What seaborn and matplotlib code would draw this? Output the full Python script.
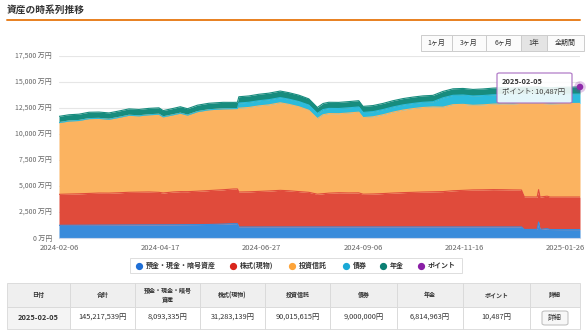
import matplotlib
matplotlib.use("Agg")
import matplotlib.pyplot as plt
from matplotlib.patches import Rectangle, FancyBboxPatch
from matplotlib.lines import Line2D
import numpy as np
import pandas as pd
import seaborn as sns

# ---------------- data (万円) ----------------
dates = [
    "2024-02-06", "2024-02-13", "2024-02-20", "2024-02-27", "2024-03-05", "2024-03-12",
    "2024-03-19", "2024-03-26", "2024-04-02", "2024-04-09", "2024-04-16", "2024-04-19",
    "2024-04-26", "2024-05-01", "2024-05-06", "2024-05-13", "2024-05-21", "2024-05-31",
    "2024-06-07", "2024-06-10", "2024-06-11", "2024-06-18", "2024-06-25", "2024-07-02",
    "2024-07-10", "2024-07-16", "2024-07-23", "2024-07-30", "2024-08-05", "2024-08-09",
    "2024-08-13", "2024-08-20", "2024-08-27", "2024-09-03", "2024-09-06", "2024-09-13",
    "2024-09-20", "2024-09-27", "2024-10-04", "2024-10-11", "2024-10-18", "2024-10-25",
    "2024-11-01", "2024-11-08", "2024-11-15", "2024-11-22", "2024-11-29", "2024-12-06",
    "2024-12-13", "2024-12-20", "2024-12-26", "2024-12-28", "2025-01-06", "2025-01-07",
    "2025-01-08", "2025-01-13", "2025-01-15", "2025-01-22", "2025-01-29", "2025-02-05",
]
cash = [
    1220, 1225, 1230, 1235, 1240, 1245, 1250, 1255, 1260, 1265, 1270, 1270,
    1275, 1280, 1285, 1290, 1300, 1340, 1380, 1380, 1060, 1060, 1060, 1062,
    1062, 1062, 1062, 1062, 1062, 1062, 1062, 1062, 1062, 1062, 1062, 1062,
    1062, 1062, 1062, 1062, 1062, 1062, 1062, 1062, 1062, 1062, 1062, 1062,
    1062, 1062, 1062, 820, 830, 1540, 830, 900, 815, 810, 809, 809.3,
]
stocks = [
    2980, 3000, 3020, 3050, 3080, 3070, 3100, 3140, 3150, 3160, 3120, 3060,
    3150, 3180, 3170, 3210, 3260, 3300, 3330, 3335, 3360, 3380, 3420, 3460,
    3520, 3480, 3400, 3330, 3150, 3200, 3250, 3290, 3270, 3280, 3150, 3170,
    3210, 3260, 3300, 3330, 3360, 3380, 3400, 3480, 3520, 3560, 3570, 3590,
    3580, 3560, 3550, 3130, 3110, 3110, 3110, 3120, 3120, 3125, 3128, 3128.3,
]
trusts = [
    6895, 7025, 7050, 7195, 7180, 7105, 7250, 7405, 7340, 7425, 7510, 7320,
    7425, 7540, 7365, 7650, 7770, 7780, 7730, 7735, 8060, 8110, 8220, 8278,
    8418, 8308, 8158, 7888, 7268, 7588, 7648, 7598, 7688, 7758, 7363, 7418,
    7578, 7778, 7938, 8048, 8128, 8158, 8118, 8278, 8268, 8138, 8168, 8218,
    8258, 8258, 8338, 9000, 9020, 8310, 9010, 8880, 8945, 8985, 8993, 9001.6,
]
bonds = [
    0, 0, 0, 0, 0, 0, 0, 0, 0, 0, 0, 0,
    0, 0, 0, 0, 0, 0, 0, 0, 500, 500, 500, 500,
    500, 500, 500, 500, 500, 500, 500, 500, 500, 500, 500, 500,
    500, 500, 500, 500, 500, 500, 900, 900, 900, 900, 900, 900,
    900, 900, 900, 900, 900, 900, 900, 900, 900, 900, 900, 900,
]
pension = [
    600, 600, 605, 610, 610, 605, 610, 615, 610, 615, 615, 600,
    610, 620, 610, 620, 625, 625, 600, 600, 600, 610, 620, 625,
    630, 625, 615, 600, 570, 585, 590, 590, 595, 600, 580, 585,
    590, 600, 605, 610, 615, 615, 615, 625, 630, 625, 630, 640,
    645, 645, 650, 650, 655, 655, 655, 660, 660, 670, 675, 681.5,
]
points = [
    0.9, 0.9, 0.9, 0.9, 0.9, 0.9, 0.9, 0.9, 0.9, 0.9, 0.9, 0.9,
    0.9, 0.9, 0.9, 0.9, 0.9, 0.9, 0.9, 0.9, 0.9, 0.9, 0.9, 0.9,
    1.0, 1.0, 1.0, 1.0, 1.0, 1.0, 1.0, 1.0, 1.0, 1.0, 1.0, 1.0,
    1.0, 1.0, 1.0, 1.0, 1.0, 1.0, 1.0, 1.0, 1.0, 1.0, 1.0, 1.0,
    1.0, 1.0, 1.0, 1.0, 1.0, 1.0, 1.0, 1.0, 1.0, 1.0, 1.0, 1.05,
]

series_names = ["預金・現金・暗号資産", "株式(現物)", "投資信託", "債券", "年金", "ポイント"]
series_colors = ["#3a8bdb", "#e04b3b", "#fbb360", "#2bbbdc", "#178c7e", "#8e2aaa"]
legend_colors = ["#1f6fd6", "#d9261c", "#fda43a", "#1aa9d6", "#0b7f73", "#8a1fa6"]

xtick_labels = ["2024-02-06", "2024-04-17", "2024-06-27", "2024-09-06", "2024-11-16", "2025-01-26"]
ytick_values = [0, 2500, 5000, 7500, 10000, 12500, 15000, 17500]

buttons = ["1ヶ月", "3ヶ月", "6ヶ月", "1年", "全期間"]
table_headers = ["日付", "合計", "預金・現金・暗号\n資産", "株式(現物)", "投資信託", "債券", "年金", "ポイント", "詳細"]
table_values = ["2025-02-05", "145,217,539円", "8,093,335円", "31,283,139円", "90,015,615円",
                "9,000,000円", "6,814,963円", "10,487円", "詳細"]
tooltip_date = "2025-02-05"
tooltip_text = "ポイント: 10,487円"

# ---------------- style ----------------
sns.set_theme(style="white")
plt.rcParams['font.family'] = ['Noto Sans CJK JP', 'DejaVu Sans']

W, H = 586, 331
fig = plt.figure(figsize=(W / 100, H / 100), dpi=100)
fig.patch.set_facecolor("white")


def fx(x):
    return x / W


def fy(y):
    return 1 - y / H


df = pd.DataFrame({
    "date": pd.to_datetime(dates),
    series_names[0]: cash,
    series_names[1]: stocks,
    series_names[2]: trusts,
    series_names[3]: bonds,
    series_names[4]: pension,
    series_names[5]: points,
})
cum = df[series_names].cumsum(axis=1)

ax = fig.add_axes([fx(59), fy(238), fx(580) - fx(59), fy(56) - fy(238)])
ax.set_facecolor("white")
ax.stackplot(df["date"], *[df[n] for n in series_names], colors=series_colors, linewidth=0, zorder=2)
for n, c in zip(series_names[:5], series_colors[:5]):
    sns.lineplot(x=df["date"], y=cum[n], color=c, linewidth=0.8, ax=ax, zorder=3)

ax.set_ylim(0, 17500)
ax.set_xlim(df["date"].iloc[0], df["date"].iloc[-1])
ax.set_yticks(ytick_values)
ax.set_yticklabels([f"{v:,} 万円" for v in ytick_values])
ax.set_xticks(pd.to_datetime(xtick_labels))
ax.set_xticklabels(xtick_labels)
ax.set_xlabel("")
ax.set_ylabel("")
ax.yaxis.grid(True, color="#e6e6e6", linewidth=0.8, zorder=0)
ax.xaxis.grid(False)
ax.set_axisbelow(True)
for s in ["top", "right", "left"]:
    ax.spines[s].set_visible(False)
ax.spines["bottom"].set_color("#ccd6eb")
ax.spines["bottom"].set_linewidth(0.8)
ax.spines["bottom"].set_zorder(4)
ax.tick_params(axis="y", length=0, labelsize=5, labelcolor="#666666", pad=5)
ax.tick_params(axis="x", length=3.5, width=0.7, color="#ccd6eb", labelsize=5.5,
               labelcolor="#666666", pad=1, direction="out")

# last point marker (ポイント)
last_date = df["date"].iloc[-1]
last_total = cum[series_names[-1]].iloc[-1]
sns.scatterplot(x=[last_date], y=[last_total], s=70, color=series_colors[5], alpha=0.25,
                edgecolor="none", ax=ax, zorder=6, clip_on=False)
sns.scatterplot(x=[last_date], y=[last_total], s=22, color=series_colors[5],
                edgecolor="none", ax=ax, zorder=7, clip_on=False)

# ---------------- title ----------------
fig.text(fx(7), fy(10), "資産の時系列推移", fontsize=7, fontweight="bold", color="#333333",
         ha="left", va="center")
fig.add_artist(Line2D([fx(7), fx(580)], [fy(19.5), fy(19.5)], color="#e8801f", linewidth=1.4,
                      transform=fig.transFigure))

# ---------------- range buttons ----------------
bx = [421, 452, 486, 521, 547, 584]
for i, label in enumerate(buttons):
    x0, x1 = bx[i], bx[i + 1]
    fc = "#e4e4e4" if label == "1年" else "#fbfbfb"
    fig.add_artist(Rectangle((fx(x0), fy(51)), fx(x1) - fx(x0), fy(35) - fy(51),
                             transform=fig.transFigure, facecolor=fc, edgecolor="#cccccc",
                             linewidth=0.7))
    fig.text(fx((x0 + x1) / 2), fy(43), label, fontsize=5, color="#333333",
             ha="center", va="center")

# ---------------- tooltip ----------------
tip = FancyBboxPatch((fx(497), fy(103)), fx(572) - fx(497), fy(73) - fy(103),
                     boxstyle="round,pad=0,rounding_size=0.004", transform=fig.transFigure,
                     facecolor="white", alpha=0.88, edgecolor="#a86cc1", linewidth=0.9, zorder=10)
fig.add_artist(tip)
fig.text(fx(502), fy(81), tooltip_date, fontsize=5.3, fontweight="bold", color="#333333",
         ha="left", va="center", zorder=11)
fig.text(fx(502), fy(92), tooltip_text, fontsize=5.3, color="#444444",
         ha="left", va="center", zorder=11)

# ---------------- legend ----------------
fig.add_artist(Rectangle((fx(130), fy(273)), fx(462) - fx(130), fy(258) - fy(273),
                         transform=fig.transFigure, facecolor="white", edgecolor="#dddddd",
                         linewidth=0.7))
leg_x = [139, 233, 292, 346, 383, 421]
for x, n, c in zip(leg_x, series_names, legend_colors):
    fig.add_artist(Line2D([fx(x)], [fy(265.5)], marker="o", markersize=4.2, color=c,
                          linestyle="none", transform=fig.transFigure))
    fig.text(fx(x + 7), fy(265.5), n, fontsize=5, fontweight="bold", color="#333333",
             ha="left", va="center")

# ---------------- table ----------------
cols = [7, 70, 135, 200, 265, 330, 397, 463, 530, 580]
hy0, hy1, dy1 = 283, 307, 329
for i in range(len(cols) - 1):
    x0, x1 = cols[i], cols[i + 1]
    fig.add_artist(Rectangle((fx(x0), fy(hy1)), fx(x1) - fx(x0), fy(hy0) - fy(hy1),
                             transform=fig.transFigure, facecolor="#efefef", edgecolor="#d8d8d8",
                             linewidth=0.6))
    fc = "#f4f4f4" if i == 0 else "white"
    fig.add_artist(Rectangle((fx(x0), fy(dy1)), fx(x1) - fx(x0), fy(hy1) - fy(dy1),
                             transform=fig.transFigure, facecolor=fc, edgecolor="#d8d8d8",
                             linewidth=0.6))
    cx = (x0 + x1) / 2
    fig.text(fx(cx), fy((hy0 + hy1) / 2), table_headers[i], fontsize=4.3, fontweight="bold",
             color="#333333", ha="center", va="center", linespacing=1.3)
    if i == len(cols) - 2:
        fig.add_artist(FancyBboxPatch((fx(cx - 13), fy(325)), fx(26), fy(311) - fy(325),
                                      boxstyle="round,pad=0,rounding_size=0.005",
                                      transform=fig.transFigure, facecolor="#f7f7f7",
                                      edgecolor="#bbbbbb", linewidth=0.7))
        fig.text(fx(cx), fy(318), table_values[i], fontsize=5, color="#333333",
                 ha="center", va="center")
    else:
        fig.text(fx(cx), fy(318), table_values[i], fontsize=5.3,
                 fontweight="bold" if i == 0 else "normal", color="#333333",
                 ha="center", va="center")

fig.savefig("out.png", dpi=100, facecolor="white")
